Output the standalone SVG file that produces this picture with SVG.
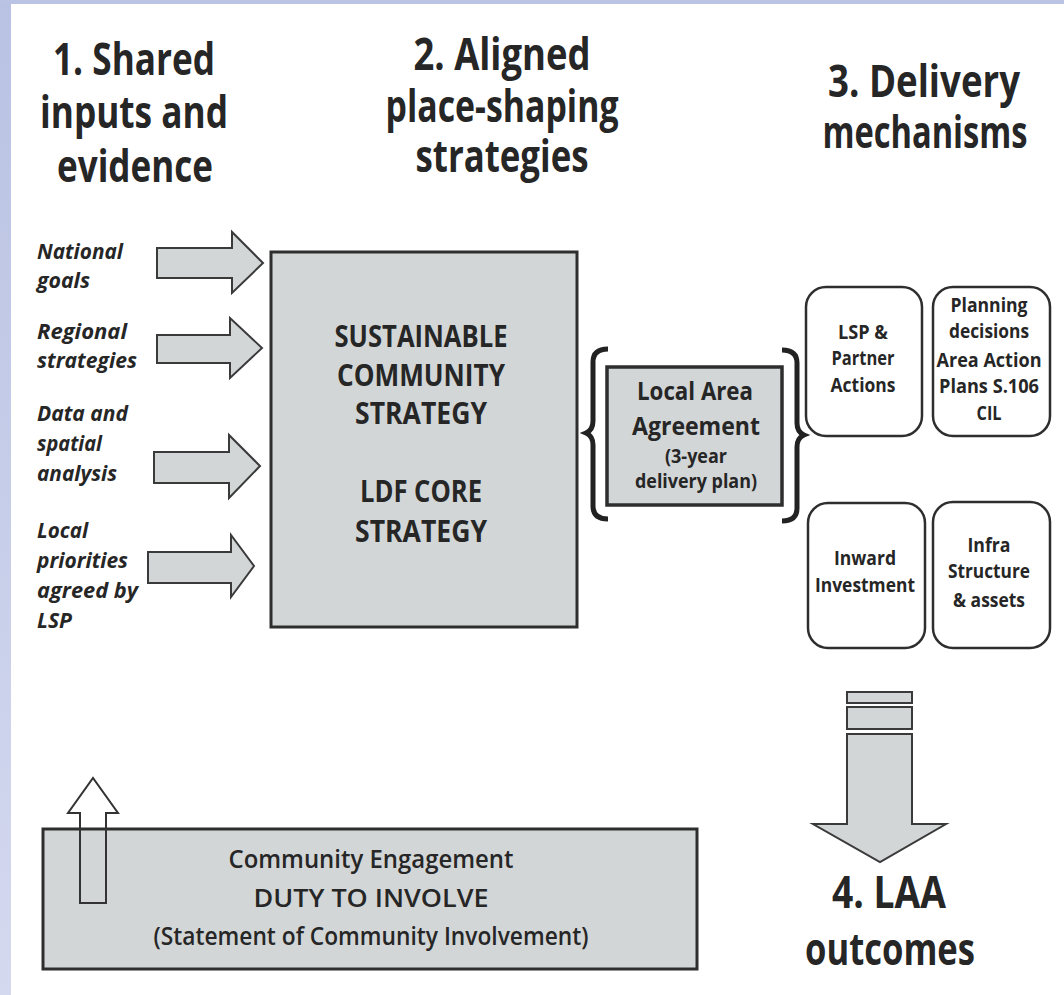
<svg xmlns="http://www.w3.org/2000/svg" width="1064" height="995" viewBox="0 0 1064 995">
<defs>
<linearGradient id="side" x1="0" y1="0" x2="0" y2="1">
<stop offset="0" stop-color="#b9c2e3"/>
<stop offset="1" stop-color="#d4d9ef"/>
</linearGradient>
</defs>
<style>
text{font-family:"Open Sans","Liberation Sans",sans-serif;font-weight:700;fill:#262626;}
.h{font-size:44px;text-anchor:middle;}
.lbl{font-size:21px;font-style:italic;font-weight:700;}
.main{font-size:30px;text-anchor:middle;}
.laa{font-size:25px;text-anchor:middle;}
.laas{font-size:19px;text-anchor:middle;}
.rb{font-size:20px;text-anchor:middle;}
.ce{font-size:26px;text-anchor:middle;font-weight:600;}
.grey{fill:#d3d6d7;stroke:#2e2e2e;}
.rbox{fill:#ffffff;stroke:#2e2e2e;stroke-width:2.5;}
.arr{fill:#d3d6d7;stroke:#3a3a3a;stroke-width:2;stroke-linejoin:miter;}
.brace{fill:none;stroke:#222;stroke-width:5;stroke-linecap:butt;}
</style>
<rect x="0" y="0" width="1064" height="995" fill="#ffffff"/>
<rect x="0" y="0" width="11" height="995" fill="url(#side)"/>
<rect x="0" y="0" width="1064" height="4" fill="#bac3e3"/>

<g id="headers">
<text class="h" x="134" y="75" textLength="162" lengthAdjust="spacingAndGlyphs">1. Shared</text>
<text class="h" x="134" y="128" textLength="188" lengthAdjust="spacingAndGlyphs">inputs and</text>
<text class="h" x="135" y="182" textLength="156" lengthAdjust="spacingAndGlyphs">evidence</text>
<text class="h" x="502" y="70" textLength="177" lengthAdjust="spacingAndGlyphs">2. Aligned</text>
<text class="h" x="502" y="122" textLength="233" lengthAdjust="spacingAndGlyphs">place-shaping</text>
<text class="h" x="502" y="172" textLength="173" lengthAdjust="spacingAndGlyphs">strategies</text>
<text class="h" x="924" y="97" textLength="192" lengthAdjust="spacingAndGlyphs">3. Delivery</text>
<text class="h" x="925" y="148" textLength="205" lengthAdjust="spacingAndGlyphs">mechanisms</text>
</g>

<g id="inputs">
<text class="lbl" x="37" y="259" textLength="86" lengthAdjust="spacingAndGlyphs">National</text>
<text class="lbl" x="37" y="288" textLength="53" lengthAdjust="spacingAndGlyphs">goals</text>
<text class="lbl" x="37" y="339" textLength="90" lengthAdjust="spacingAndGlyphs">Regional</text>
<text class="lbl" x="37" y="368" textLength="100" lengthAdjust="spacingAndGlyphs">strategies</text>
<text class="lbl" x="37" y="421" textLength="91" lengthAdjust="spacingAndGlyphs">Data and</text>
<text class="lbl" x="37" y="451" textLength="65" lengthAdjust="spacingAndGlyphs">spatial</text>
<text class="lbl" x="37" y="481" textLength="80" lengthAdjust="spacingAndGlyphs">analysis</text>
<text class="lbl" x="37" y="538" textLength="51" lengthAdjust="spacingAndGlyphs">Local</text>
<text class="lbl" x="37" y="568" textLength="91" lengthAdjust="spacingAndGlyphs">priorities</text>
<text class="lbl" x="37" y="598" textLength="101" lengthAdjust="spacingAndGlyphs">agreed by</text>
<text class="lbl" x="37" y="628" textLength="35" lengthAdjust="spacingAndGlyphs">LSP</text>
</g>

<g id="strategy">
<rect class="grey" x="271" y="252" width="306" height="375" stroke-width="3"/>
<text class="main" x="421" y="347" textLength="173" lengthAdjust="spacingAndGlyphs">SUSTAINABLE</text>
<text class="main" x="421" y="386" textLength="168" lengthAdjust="spacingAndGlyphs">COMMUNITY</text>
<text class="main" x="421" y="424" textLength="132" lengthAdjust="spacingAndGlyphs">STRATEGY</text>
<text class="main" x="421" y="502" textLength="122" lengthAdjust="spacingAndGlyphs">LDF CORE</text>
<text class="main" x="421" y="542" textLength="132" lengthAdjust="spacingAndGlyphs">STRATEGY</text>
</g>

<g id="laa">
<path class="brace" d="M608,349 Q593,349 593,362 L593,421 Q593,430 586,433 Q593,436 593,445 L593,506 Q593,519 608,519"/>
<path class="brace" d="M782,350 Q797,350 797,363 L797,423 Q797,432 804,435 Q797,438 797,447 L797,508 Q797,521 782,521"/>
<rect class="grey" x="607" y="367" width="175" height="138" stroke-width="3.5"/>
<text class="laa" x="695" y="400" textLength="116" lengthAdjust="spacingAndGlyphs">Local Area</text>
<text class="laa" x="696" y="435" textLength="128" lengthAdjust="spacingAndGlyphs">Agreement</text>
<text class="laas" x="696" y="463" textLength="62" lengthAdjust="spacingAndGlyphs">(3-year</text>
<text class="laas" x="696" y="488" textLength="122" lengthAdjust="spacingAndGlyphs">delivery plan)</text>
</g>

<g id="lsp-actions">
<rect class="rbox" x="806" y="287" width="116" height="149" rx="20"/>
<text class="rb" x="863" y="339" textLength="50" lengthAdjust="spacingAndGlyphs">LSP &amp;</text>
<text class="rb" x="863" y="365" textLength="63" lengthAdjust="spacingAndGlyphs">Partner</text>
<text class="rb" x="863" y="392" textLength="65" lengthAdjust="spacingAndGlyphs">Actions</text>
</g>

<g id="planning">
<rect class="rbox" x="933" y="287" width="117" height="149" rx="20"/>
<text class="rb" x="989" y="312" textLength="77" lengthAdjust="spacingAndGlyphs">Planning</text>
<text class="rb" x="989" y="338" textLength="80" lengthAdjust="spacingAndGlyphs">decisions</text>
<text class="rb" x="989" y="367" textLength="105" lengthAdjust="spacingAndGlyphs">Area Action</text>
<text class="rb" x="989" y="393" textLength="100" lengthAdjust="spacingAndGlyphs">Plans S.106</text>
<text class="rb" x="989" y="420" textLength="25" lengthAdjust="spacingAndGlyphs">CIL</text>
</g>

<g id="inward">
<rect class="rbox" x="808" y="503" width="117" height="145" rx="20"/>
<text class="rb" x="865" y="565" textLength="62" lengthAdjust="spacingAndGlyphs">Inward</text>
<text class="rb" x="865" y="592" textLength="100" lengthAdjust="spacingAndGlyphs">Investment</text>
</g>

<g id="infra">
<rect class="rbox" x="933" y="502" width="117" height="146" rx="20"/>
<text class="rb" x="989" y="552" textLength="43" lengthAdjust="spacingAndGlyphs">Infra</text>
<text class="rb" x="989" y="578" textLength="82" lengthAdjust="spacingAndGlyphs">Structure</text>
<text class="rb" x="989" y="607" textLength="72" lengthAdjust="spacingAndGlyphs">&amp; assets</text>
</g>

<g id="community">
<rect class="grey" x="43" y="829" width="654" height="140" stroke-width="3"/>
<text class="ce" x="371" y="868" textLength="285" lengthAdjust="spacingAndGlyphs">Community Engagement</text>
<text class="ce" x="371" y="907" textLength="235" lengthAdjust="spacingAndGlyphs">DUTY TO INVOLVE</text>
<text class="ce" x="371" y="945" textLength="435" lengthAdjust="spacingAndGlyphs">(Statement of Community Involvement)</text>
</g>

<g id="outcomes">
<text class="h" x="889" y="908" textLength="114" lengthAdjust="spacingAndGlyphs">4. LAA</text>
<text class="h" x="890" y="965" textLength="170" lengthAdjust="spacingAndGlyphs">outcomes</text>
</g>

<g id="connectors">
<polygon class="arr" points="157,248 232,248 232,232 263,263 232,293 232,278 157,278"/>
<polygon class="arr" points="157,335 230,335 230,318 262,348 230,378 230,363 157,363"/>
<polygon class="arr" points="154,452 229,452 229,435 260,466 229,498 229,483 154,483"/>
<polygon class="arr" points="148,552 231,552 231,535 254,566 231,597 231,583 148,583"/>
<rect class="arr" x="847" y="692" width="65" height="11"/>
<rect class="arr" x="847" y="707" width="65" height="22"/>
<polygon class="arr" points="847,734 912,734 912,824 946,824 880,862 813,824 847,824"/>
<polygon points="80,903 80,813 68,813 93,778 118,813 106,813 106,903" fill="none" stroke="#333" stroke-width="2"/>
</g>
</svg>
